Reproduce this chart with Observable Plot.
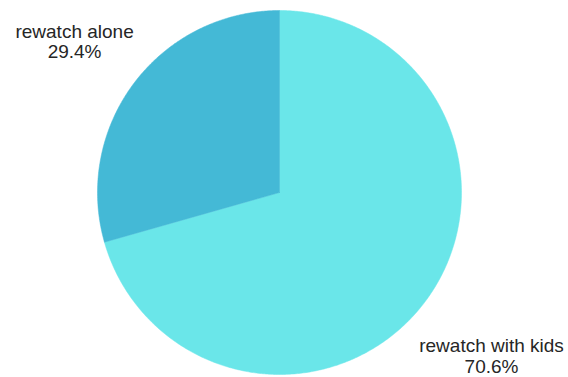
<!DOCTYPE html>
<html>
<head>
<meta charset="utf-8">
<script src="https://cdn.jsdelivr.net/npm/d3@7"></script>
<script src="https://cdn.jsdelivr.net/npm/@observablehq/plot@0.6"></script>
<style>
  html, body { margin: 0; padding: 0; background: #fff; }
</style>
</head>
<body>
<div id="chart"></div>
<script>
const categories = ["rewatch with kids", "rewatch alone"];
const values = [70.6, 29.4];
const labels = ["70.6%", "29.4%"];
const colors = ["#6ae6e9", "#44b9d6"];

// Build slice polygons from pie angles (clockwise from 12 o'clock)
const total = d3.sum(values);
const pie = d3.pie().sort(null).value(d => d)(values);
const slices = [];
pie.forEach((p, i) => {
  const cat = categories[i];
  slices.push({cat, x: 0, y: 0});
  const n = Math.max(2, Math.ceil((p.endAngle - p.startAngle) / (Math.PI / 360)));
  for (let k = 0; k <= n; ++k) {
    const a = p.startAngle + (p.endAngle - p.startAngle) * k / n;
    slices.push({cat, x: Math.sin(a), y: Math.cos(a)});
  }
  slices.push({cat, x: 0, y: 0});
});

const labelData = [
  {cat: categories[1], text: categories[1] + "\n" + labels[1], x: -1.126, y: 0.933},
  {cat: categories[0], text: categories[0] + "\n" + labels[0], x: 1.165, y: -0.794}
];

const chart = Plot.plot({
  width: 568,
  height: 377,
  marginLeft: 97,
  marginRight: 107,
  marginTop: 10,
  marginBottom: 3,
  x: {domain: [-1, 1], axis: null},
  y: {domain: [-1, 1], axis: null},
  color: {domain: categories, range: colors},
  style: {fontFamily: "'Liberation Sans', Arial, Helvetica, sans-serif", background: "#fff"},
  marks: [
    Plot.line(slices, {x: "x", y: "y", z: "cat", fill: "cat", stroke: "cat", strokeWidth: 0.5, curve: "linear"}),
    Plot.text(labelData, {
      x: "x", y: "y", text: "text",
      textAnchor: "middle", lineAnchor: "top", lineHeight: 1.1,
      fontSize: 19, fill: "#262626"
    })
  ]
});
document.getElementById("chart").appendChild(chart);
</script>
</body>
</html>
